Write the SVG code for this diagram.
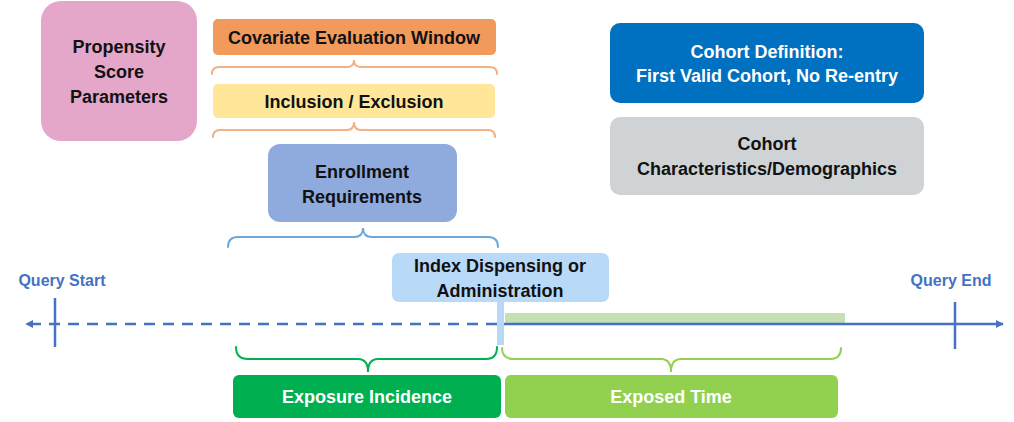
<svg xmlns="http://www.w3.org/2000/svg" width="1014" height="422" viewBox="0 0 1014 422">
  <style>
    text { font-family: "Liberation Sans", Arial, sans-serif; font-weight: bold; font-size: 18px; text-anchor: middle; }
    .dark { fill: #111111; }
    .light { fill: #ffffff; }
    .axis-label { fill: #4472C4; font-size: 16px; }
    .brace { fill: none; stroke-width: 2; stroke-linecap: round; }
  </style>
  <defs>
    <marker id="arrow" viewBox="0 0 10 10" refX="9" refY="5" markerWidth="8" markerHeight="8" markerUnits="userSpaceOnUse" orient="auto-start-reverse">
      <path d="M0,0 L10,5 L0,10 z" fill="#4472C4"/>
    </marker>
  </defs>

  <rect width="1014" height="422" fill="#ffffff"/>

  <!-- Nodes -->
  <g id="propensity">
    <rect x="41" y="1" width="156" height="140" rx="20" fill="#E5A7C9"/>
    <text class="dark" x="119" y="53">Propensity</text>
    <text class="dark" x="119" y="78">Score</text>
    <text class="dark" x="119" y="103">Parameters</text>
  </g>

  <g id="covariate-window">
    <rect x="213" y="19" width="283" height="36" rx="5" fill="#F19A5C"/>
    <text class="dark" x="354" y="44">Covariate Evaluation Window</text>
  </g>

  <g id="inclusion-exclusion">
    <rect x="213" y="84" width="282" height="34" rx="5" fill="#FFE699"/>
    <text class="dark" x="354" y="108">Inclusion / Exclusion</text>
  </g>

  <g id="enrollment">
    <rect x="268" y="144" width="189" height="78" rx="12" fill="#8FAADC"/>
    <text class="dark" x="362" y="178">Enrollment</text>
    <text class="dark" x="362" y="203">Requirements</text>
  </g>

  <g id="cohort-definition">
    <rect x="610" y="23" width="314" height="80" rx="10" fill="#0070C0"/>
    <text class="light" x="767" y="58">Cohort Definition:</text>
    <text class="light" x="767" y="82">First Valid Cohort, No Re-entry</text>
  </g>

  <g id="cohort-characteristics">
    <rect x="610" y="117" width="314" height="78" rx="10" fill="#D0D3D6"/>
    <text class="dark" x="767" y="150">Cohort</text>
    <text class="dark" x="767" y="175">Characteristics/Demographics</text>
  </g>

  <g id="exposed-period-bar">
    <rect x="505" y="313" width="340" height="10" rx="1" fill="#C5E0B4"/>
  </g>

  <g id="exposure-incidence">
    <rect x="233" y="375" width="268" height="43" rx="6" fill="#00B050"/>
    <text class="light" x="367" y="403">Exposure Incidence</text>
  </g>

  <g id="exposed-time">
    <rect x="505" y="375" width="333" height="43" rx="6" fill="#92D050"/>
    <text class="light" x="671" y="403">Exposed Time</text>
  </g>

  <g id="query-start">
    <text class="axis-label" x="62" y="286">Query Start</text>
  </g>

  <g id="query-end">
    <text class="axis-label" x="951" y="286">Query End</text>
  </g>

  <!-- Connectors: timeline, ticks, index marker and braces -->
  <g id="connectors">
    <line x1="497" y1="324" x2="26" y2="324" stroke="#4472C4" stroke-width="2.5" stroke-dasharray="11 8" marker-end="url(#arrow)"/>
    <line x1="504" y1="324" x2="1003" y2="324" stroke="#4472C4" stroke-width="2.5" marker-end="url(#arrow)"/>
    <line x1="55" y1="298" x2="55" y2="347" stroke="#4472C4" stroke-width="2.5"/>
    <line x1="955" y1="302" x2="955" y2="349" stroke="#4472C4" stroke-width="2.5"/>

    <path class="brace" stroke="#F4B183" d="M212,74 Q212,67 219,67 L347,67 Q354,67 354,60 Q354,67 361,67 L490,67 Q497,67 497,74"/>
    <path class="brace" stroke="#F4B183" d="M213,137 Q213,130 220,130 L347,130 Q354,130 354,122 Q354,130 361,130 L488,130 Q495,130 495,137"/>
    <path class="brace" stroke="#6AA8DE" d="M228,247 Q228,237 238,237 L354,237 Q363,237 363,228 Q363,237 372,237 L488,237 Q498,237 498,247"/>
    <path class="brace" stroke="#00B050" stroke-width="2.5" d="M236,347 Q236,359 248,359 L358,359 Q368,359 368,372 Q368,359 378,359 L486,359 Q497,359 497,347"/>
    <path class="brace" stroke="#92D050" stroke-width="2.5" d="M502,348 Q502,359 514,359 L661,359 Q671,359 671,372 Q671,359 681,359 L830,359 Q841,359 841,348"/>
  </g>

  <g id="index-dispensing">
    <rect x="497" y="300" width="7" height="45" fill="#B9D9F8"/>
    <rect x="392" y="253" width="217" height="49" rx="7" fill="#B9D9F8"/>
    <text class="dark" x="500" y="272">Index Dispensing or</text>
    <text class="dark" x="500" y="297">Administration</text>
  </g>
</svg>
